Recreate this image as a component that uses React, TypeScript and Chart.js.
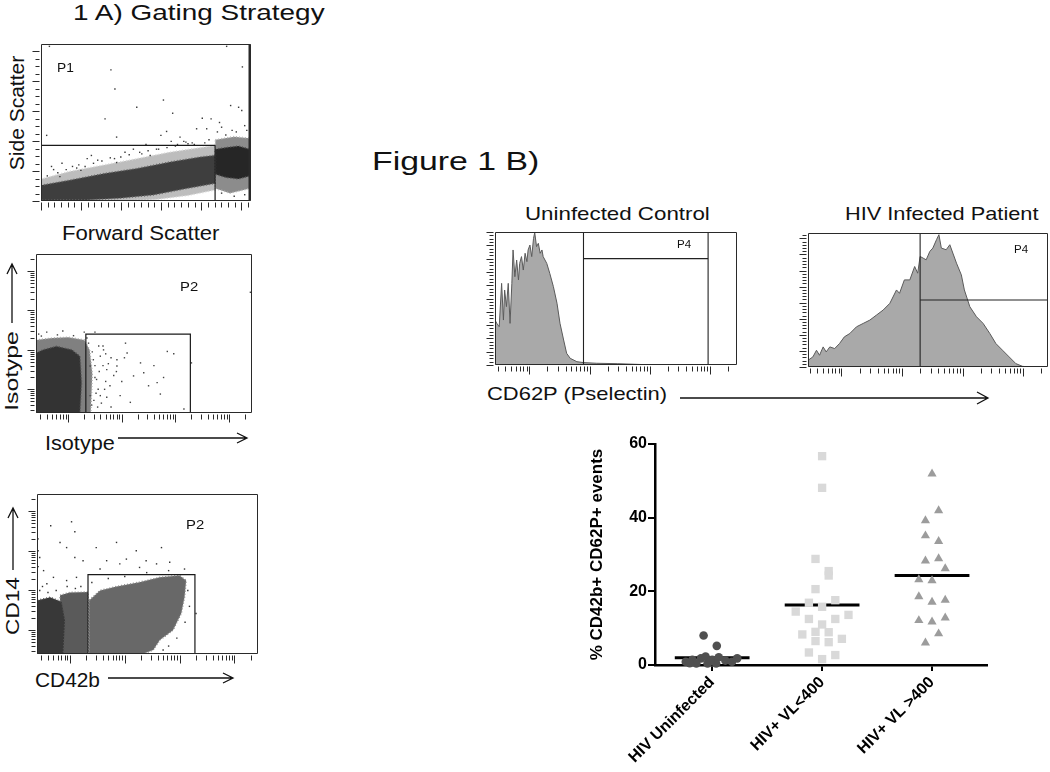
import React, { useEffect, useRef } from 'react';
import { Chart, registerables } from 'chart.js';

Chart.register(...registerables);
const FONT = '"Liberation Sans", Arial, Helvetica, sans-serif';
Chart.defaults.font.family = FONT;

type Pt = [number, number];

// ---------------- Figure 1B dot plot data ----------------
const categories = ['HIV Uninfected', 'HIV+ VL<400', 'HIV+ VL >400'];
const yTickValues = [0, 20, 40, 60];
const uninfectedValues = [8.0, 5.2, 0.9, 1.4, 1.8, 2.3, 1.4, 2.1, 1.2, 1.8, 0.9, 0.4, 0.4, 0.4, 0.5, 1.0];
const uninfectedJitter = [-1.3, 0.7, -4, -3, -1.7, -1, 0, 1, 2, 3.8, 3, -2.4, -0.7, 0.6, -3.4, -0.3];
const vlLowValues = [56.7, 48.1, 28.8, 25.5, 24.3, 20.6, 17.6, 16.9, 15.8, 14.5, 13.6, 12.5, 12.5, 11.0, 8.3, 9.0, 6.5, 8.9, 6.2, 7.1, 3.4, 2.7, 1.6];
const vlLowJitter = [0, 0, -1, 1, 1, -1, 2, -2, 0, -4, 4, -2, 2, 0, -3, -1, -1, 1, 1, 3, -2, 2, 0];
const vlHighValues = [51.9, 41.9, 39.2, 35.1, 33.6, 28.3, 28.9, 26.2, 23.2, 22.9, 18.6, 17.1, 17.6, 12.1, 11.7, 12.8, 8.5, 6.0];
const vlHighJitter = [0, 1, -1, -1, 1, -1, 1, 2, -2, 0, -2, 0, 2, -2, 0, 2, 1, -1];
const medians = [2.0, 16.3, 24.3];
const JITTER_STEP = 0.06;
const MEDIAN_HALF = 0.34;

// ---------------- Gating plot 1: FSC vs SSC (% of linear scale) ----------------
const fscSscHalo: Pt[] = [[0, 14], [14, 19], [30, 23], [46, 27], [61, 31], [76, 34], [82.9, 35.4], [82.9, 7], [70, 3.5], [55, 1], [40, 0], [0, 0]];
const fscSscCore: Pt[] = [[0, 10], [14, 13.3], [30, 17.5], [45.6, 20.7], [61.4, 24.9], [75.7, 28], [82.9, 29.1], [82.9, 11.2], [69.4, 8], [53.5, 3.8], [37.6, 1.7], [21.7, 0.6], [0, 0.5]];
const fscSscRightHalo: Pt[] = [[83, 39], [92, 41], [99.5, 40], [99.5, 8], [90, 5], [83, 8]];
const fscSscRightCore: Pt[] = [[83, 33], [88, 34], [94, 35], [99.5, 33], [99.5, 16], [94, 14], [88, 15], [83, 17]];
const fscSscDots: Pt[] = [[33.3, 83.5], [35.2, 71.3], [58.3, 64.3], [45.6, 59.7], [62.7, 55.9], [30.5, 52.3], [76.8, 52.7], [81, 52.3], [2.7, 41.8], [36, 40.7], [59.8, 44.3], [57.1, 41.8], [66.2, 40.7], [74.1, 46], [78.9, 46], [95.9, 85.4], [90.3, 60.8], [94.1, 59.7], [95.6, 57.6], [88.4, 98.5], [4, 98.5], [10, 24], [22, 27], [40, 31], [50, 36], [68, 38], [72, 37], [15, 22], [27, 26], [55, 33], [64, 35], [80, 39], [86, 47], [91, 45], [97, 48], [85, 50], [6, 20], [18, 23], [35, 27], [48, 30], [70, 36.5], [3, 16], [8, 18], [12, 20], [17, 21], [21, 22], [25, 24], [29, 25.5], [33, 27.5], [38, 28], [42, 29.5], [47, 31], [51, 32], [56, 33], [60, 34], [65, 36], [69, 37.5], [73, 36], [78, 37], [5, 22], [24, 29], [44, 33], [62, 38], [9, 15.5], [19, 19.5], [36, 24.5], [52, 29], [84, 44], [88, 42], [93, 44], [98, 45], [86, 5], [92, 3], [97, 4]];
const fscSscGate = [0, 82.9, 0, 35.4];

// ---------------- Gating plot 2: Isotype (log decades) ----------------
const isoHalo: Pt[] = [[1.4, 3.25], [1.7, 3.3], [2.0, 3.32], [2.3, 3.25], [2.4, 3.0], [2.45, 2.4], [2.42, 1.4], [1.4, 1.4]];
const isoCore: Pt[] = [[1.4, 1.4], [1.4, 2.92], [1.53, 3.0], [1.78, 3.09], [2.07, 3.0], [2.22, 2.84], [2.25, 2.17], [2.22, 1.4]];
const isoDots: Pt[] = [[3.07, 3.17], [3.85, 2.96], [3.97, 2.9], [3.1, 2.92], [2.6, 2.84], [3.6, 2.6], [3.41, 2.42], [3.78, 2.3], [2.72, 2.5], [2.47, 2.75], [2.91, 2.59], [3.22, 2.34], [3.66, 2.17], [4.16, 1.5], [3.16, 1.67], [2.78, 2.09], [2.53, 2.25], [2.41, 2.59], [2.66, 3.0], [2.38, 3.17], [2.91, 2.75], [3.35, 2.67], [3.5, 2.09], [2.97, 1.84], [2.6, 1.84], [2.41, 1.84], [3.72, 1.88], [5.4, 4.46], [4.3, 2.67], [2.45, 2.95], [2.5, 2.3], [2.56, 2.0], [2.65, 2.6], [2.7, 2.2], [2.44, 1.6], [2.55, 1.55], [2.8, 2.8], [2.35, 3.3], [1.5, 3.35], [1.8, 3.38], [2.1, 3.36], [2.85, 2.35], [2.62, 1.65], [2.3, 3.45], [2.65, 3.1], [2.7, 2.9], [2.75, 2.65], [2.68, 2.0], [2.72, 1.8], [2.8, 1.55], [2.9, 2.45], [3.0, 2.2], [3.05, 2.8], [2.5, 3.45], [1.6, 3.45], [1.9, 3.48], [1.45, 3.4], [2.5, 2.6], [2.52, 1.9], [2.58, 2.45], [2.48, 1.72], [2.57, 3.1]];
const isoGate = [2.33, 4.28, 1.4, 3.4];

// ---------------- Gating plot 3: CD42b vs CD14 (log decades) ----------------
const cd14Mid: Pt[] = [[1.82, 2.88], [2.0, 2.95], [2.33, 2.96], [2.33, 1.4], [1.82, 1.4]];
const cd14Left: Pt[] = [[1.4, 1.4], [1.4, 2.75], [1.64, 2.83], [1.85, 2.71], [1.91, 2.25], [1.88, 1.4]];
const cd14Gray: Pt[] = [[2.35, 1.4], [2.35, 2.75], [2.55, 3.0], [2.85, 3.1], [3.27, 3.21], [3.64, 3.33], [4.0, 3.38], [4.12, 3.25], [4.09, 2.83], [4.03, 2.42], [3.88, 2.0], [3.64, 1.75], [3.52, 1.5], [3.33, 1.4]];
const cd14Dots: Pt[] = [[1.65, 4.63], [2.03, 4.73], [2.09, 4.48], [1.82, 4.21], [1.94, 4.08], [2.48, 4.08], [2.85, 4.21], [3.21, 4.0], [3.67, 4.08], [1.45, 3.83], [1.52, 3.5], [1.7, 3.33], [2.24, 3.75], [2.67, 3.75], [3.03, 3.79], [3.39, 3.75], [3.58, 3.67], [3.82, 3.71], [4.09, 3.54], [4.3, 2.42], [1.91, 5.42], [2.09, 3.83], [2.55, 3.54], [2.91, 3.67], [3.27, 3.58], [1.94, 3.25], [2.12, 3.33], [1.58, 3.17], [2.2, 3.1], [2.4, 3.2], [2.7, 3.3], [3.0, 3.35], [3.4, 3.45], [3.8, 3.5], [4.15, 3.0], [4.18, 2.6], [4.1, 2.2], [3.95, 1.8], [3.8, 1.6], [3.7, 1.5], [1.45, 3.0], [1.5, 3.1], [1.6, 2.95], [1.75, 3.0], [1.95, 3.1], [2.1, 3.05], [1.42, 3.6], [1.42, 4.0], [1.42, 4.3]];
const cd14Gate = [2.33, 4.28, 1.4, 3.4];

// ---------------- Histograms (CD62P, log decades vs % of max count) ----------------
const uninfectedHistogram: Pt[] = [[1.43, 33.8], [1.46, 31.3], [1.5, 28.8], [1.54, 61.4], [1.57, 33.8], [1.59, 56.4], [1.62, 43.9], [1.65, 61.4], [1.68, 31.3], [1.71, 61.4], [1.73, 86.5], [1.76, 66.4], [1.79, 78.9], [1.82, 63.9], [1.84, 76.4], [1.87, 81.5], [1.9, 71.4], [1.93, 84], [1.96, 77.7], [1.98, 86.5], [2.01, 90.2], [2.04, 81.5], [2.07, 95.2], [2.09, 99.5], [2.12, 89], [2.15, 91.5], [2.18, 84], [2.21, 86.5], [2.23, 81.5], [2.29, 76.4], [2.34, 68.9], [2.4, 58.9], [2.46, 46.4], [2.51, 31.3], [2.57, 18.8], [2.62, 8.8], [2.68, 5], [2.79, 2.5], [2.9, 1.8], [3.12, 1.3], [3.46, 1], [3.9, 0.3], [4.2, 0]];
const infectedHistogram: Pt[] = [[1.45, 5], [1.53, 7.5], [1.59, 12.5], [1.64, 8.75], [1.7, 15], [1.75, 11.25], [1.81, 15], [1.89, 13.75], [1.97, 17.5], [2.05, 22.5], [2.14, 25], [2.25, 30], [2.36, 32.5], [2.47, 35], [2.58, 38.75], [2.69, 42.5], [2.8, 47.5], [2.91, 57.5], [2.96, 55], [3.04, 65], [3.13, 65], [3.21, 75], [3.26, 70], [3.3, 82.5], [3.35, 81.25], [3.4, 80], [3.46, 86.25], [3.51, 88.75], [3.57, 95], [3.61, 98.75], [3.65, 88.75], [3.73, 87.5], [3.79, 91.25], [3.84, 85], [3.9, 77.5], [3.98, 68.75], [4.03, 57.5], [4.12, 45], [4.23, 37.5], [4.34, 32.5], [4.45, 25], [4.55, 17.5], [4.66, 12.5], [4.77, 7.5], [4.88, 2.5], [4.99, 0.5], [5.1, 0]];
const uninfectedGate = [2.9, 4.97, 80];
const infectedGate = [3.3, 5.41, 50];

// ---------------- helpers ----------------
interface TickSpec { v: number; major: boolean }
function logTicks(min: number, max: number): TickSpec[] {
  const out: TickSpec[] = [];
  for (let d = Math.floor(min); d <= Math.ceil(max); d++) {
    for (let k = 1; k <= 9; k++) {
      const v = d + Math.log10(k);
      if (v >= min - 1e-9 && v <= max + 1e-9) out.push({ v, major: k === 1 });
    }
  }
  return out;
}
function linTicks(min: number, max: number, step: number, sub: number): TickSpec[] {
  const out: TickSpec[] = [];
  for (let i = 0; ; i++) {
    const v = min + (i * step) / sub;
    if (v > max + 1e-9) break;
    out.push({ v, major: i % sub === 0 });
  }
  return out;
}

function framePlugin(xt: TickSpec[], yt: TickSpec[], rightWidth = 1) {
  return {
    id: 'flowFrame',
    afterDraw(chart: any) {
      const { ctx, chartArea: a, scales } = chart;
      ctx.save();
      ctx.strokeStyle = '#2a2a2a';
      ctx.lineWidth = 1;
      const L = Math.round(a.left) + 0.5;
      const R = Math.round(a.right) - 0.5;
      const T = Math.round(a.top) + 0.5;
      const B = Math.round(a.bottom) - 0.5;
      ctx.beginPath();
      ctx.rect(L, T, R - L, B - T);
      for (const t of xt) {
        const x = Math.round(scales.x.getPixelForValue(t.v)) + 0.5;
        ctx.moveTo(x, B + 2);
        ctx.lineTo(x, B + 2 + (t.major ? 8 : 5));
      }
      for (const t of yt) {
        const y = Math.round(scales.y.getPixelForValue(t.v)) + 0.5;
        ctx.moveTo(L - 2, y);
        ctx.lineTo(L - 2 - (t.major ? 7 : 4), y);
      }
      ctx.stroke();
      if (rightWidth > 1) {
        ctx.lineWidth = rightWidth;
        ctx.beginPath();
        ctx.moveTo(R - rightWidth / 2 + 0.5, T);
        ctx.lineTo(R - rightWidth / 2 + 0.5, B);
        ctx.stroke();
      }
      ctx.restore();
    },
  };
}

const xy = (pts: Pt[]) => pts.map(([x, y]) => ({ x, y }));
const rect = (g: number[]): Pt[] => [[g[0], g[2]], [g[0], g[3]], [g[1], g[3]], [g[1], g[2]], [g[0], g[2]]];

function poly(pts: Pt[], color: string, order: number, edge?: string) {
  return { type: 'line', data: xy([...pts, pts[0]]), showLine: true, fill: 'shape', backgroundColor: color, borderColor: edge ?? color, borderWidth: edge ? 1.6 : 0.8, borderDash: edge ? [1, 2] : [], pointRadius: 0, tension: 0, order };
}
function dots(pts: Pt[], color: string, order: number, r = 1) {
  return { type: 'scatter', data: xy(pts), showLine: false, pointStyle: 'rect', pointRadius: r, backgroundColor: color, borderWidth: 0, order };
}
function path(pts: Pt[], color: string, order: number, w = 1.2) {
  return { type: 'line', data: xy(pts), showLine: true, fill: false, borderColor: color, borderWidth: w, pointRadius: 0, tension: 0, order };
}
function area(pts: Pt[], fillColor: string, lineColor: string, order: number) {
  return { type: 'line', data: xy(pts), showLine: true, fill: 'origin', backgroundColor: fillColor, borderColor: lineColor, borderWidth: 1, pointRadius: 0, tension: 0, order };
}

function flowConfig(o: { xr: number[]; yr: number[]; datasets: any[]; xt: TickSpec[]; yt: TickSpec[]; pad: any; rightWidth?: number }) {
  return {
    type: 'scatter',
    data: { datasets: o.datasets },
    options: {
      animation: false,
      responsive: false,
      events: [],
      layout: { padding: o.pad },
      plugins: { legend: { display: false }, tooltip: { enabled: false } },
      scales: {
        x: { type: 'linear', display: false, min: o.xr[0], max: o.xr[1] },
        y: { type: 'linear', display: false, min: o.yr[0], max: o.yr[1] },
      },
    },
    plugins: [framePlugin(o.xt, o.yt, o.rightWidth)],
  };
}

function ChartCanvas({ left, top, width, height, make }: { left: number; top: number; width: number; height: number; make: () => any }) {
  const ref = useRef<HTMLCanvasElement>(null);
  useEffect(() => {
    const chart = new Chart(ref.current as HTMLCanvasElement, make());
    return () => chart.destroy();
  }, []);
  return <canvas ref={ref} width={width} height={height} style={{ position: 'absolute', left, top, width, height }} />;
}

function Label({ t, x, y, size, stretch = 1, bold = false, rot = false }: { t: string; x: number; y: number; size: number; stretch?: number; bold?: boolean; rot?: boolean }) {
  const style: React.CSSProperties = { position: 'absolute', whiteSpace: 'nowrap', fontFamily: FONT, fontSize: size, lineHeight: 1, color: '#111', fontWeight: bold ? 700 : 400, left: x };
  if (rot) {
    style.top = y;
    style.transform = `translate(-50%, -50%) rotate(-90deg) scaleX(${stretch})`;
  } else {
    style.top = y - 0.13 * size;
    style.transform = `scaleX(${stretch})`;
    style.transformOrigin = 'left top';
  }
  return <div style={style}>{t}</div>;
}

const LOG = [1.4, 5.43];
const PAD = { left: 12, right: 4, top: 3, bottom: 12 };

function dotPlotConfig() {
  const groupPoints = (vals: number[], jit: number[], c: number) => vals.map((v, i) => ({ x: c + jit[i] * JITTER_STEP, y: v }));
  return {
    type: 'scatter',
    data: {
      datasets: [
        { label: categories[0], data: groupPoints(uninfectedValues, uninfectedJitter, 1), pointStyle: 'circle', pointRadius: 4.3, backgroundColor: '#505050', borderWidth: 0, clip: false },
        { label: categories[1], data: groupPoints(vlLowValues, vlLowJitter, 2), pointStyle: 'rect', pointRadius: 5.9, backgroundColor: '#d9d9d9', borderWidth: 0, clip: false },
        { label: categories[2], data: groupPoints(vlHighValues, vlHighJitter, 3), pointStyle: 'triangle', pointRadius: 5.3, backgroundColor: '#9c9c9c', borderWidth: 0, clip: false },
        ...medians.map((m, i) => ({
          type: 'line',
          label: 'median ' + categories[i],
          data: [{ x: i + 1 - MEDIAN_HALF, y: m }, { x: i + 1 + MEDIAN_HALF, y: m }],
          showLine: true,
          borderColor: '#000',
          borderWidth: 3,
          pointRadius: 0,
          clip: false,
        })),
      ],
    },
    options: {
      animation: false,
      responsive: false,
      events: [],
      layout: { padding: { top: 14, right: 13, left: 0, bottom: 0 } },
      plugins: { legend: { display: false }, tooltip: { enabled: false } },
      scales: {
        x: {
          type: 'linear',
          min: 0.48,
          max: 3.5,
          afterBuildTicks: (s: any) => { s.ticks = categories.map((_, i) => ({ value: i + 1 })); },
          afterFit: (s: any) => { s.height = 107; },
          ticks: { autoSkip: false, maxRotation: 45, minRotation: 45, color: '#000', font: { size: 16, weight: 'bold' }, padding: 2, callback: (v: any) => categories[Number(v) - 1] ?? '' },
          grid: { drawOnChartArea: false, drawTicks: true, tickLength: 6, color: '#000', lineWidth: 2 },
          border: { display: true, color: '#000', width: 2.5 },
        },
        y: {
          type: 'linear',
          min: 0,
          max: 60,
          afterBuildTicks: (s: any) => { s.ticks = yTickValues.map((v) => ({ value: v })); },
          afterFit: (s: any) => { s.width = 95; },
          ticks: { color: '#000', font: { size: 16, weight: 'bold' }, padding: 1 },
          grid: { drawOnChartArea: false, drawTicks: true, tickLength: 7, color: '#000', lineWidth: 2 },
          border: { display: true, color: '#000', width: 2.5 },
          title: { display: true, text: '% CD42b+ CD62P+ events', color: '#000', font: { size: 17, weight: 'bold' }, padding: { top: 27, bottom: 0 } },
        },
      },
    },
  };
}

export default function App() {
  return (
    <div style={{ position: 'absolute', left: 0, top: 0, width: 1050, height: 772, background: '#fff', overflow: 'hidden', fontFamily: FONT }}>
      {/* Gating plot 1 */}
      <ChartCanvas left={29} top={40} width={226} height={173} make={() => flowConfig({
        xr: [0, 100], yr: [0, 100], pad: PAD, rightWidth: 2.5,
        xt: linTicks(0, 100, 19.07, 6), yt: linTicks(0, 100, 19.07, 4),
        datasets: [
          path(rect(fscSscGate), '#1a1a1a', 0, 1.2),
          dots(fscSscDots, '#3a3a3a', 1),
          poly(fscSscCore, '#3e3e3e', 2, '#6a6a6a'),
          poly(fscSscRightCore, '#262626', 2, '#555'),
          poly(fscSscHalo, '#bdbdbd', 3, '#dadada'),
          poly(fscSscRightHalo, '#8c8c8c', 3, '#bbb'),
        ],
      })} />
      {/* Gating plot 2 */}
      <ChartCanvas left={24} top={250} width={232} height={175} make={() => flowConfig({
        xr: LOG, yr: LOG, pad: PAD,
        xt: logTicks(LOG[0], LOG[1]), yt: logTicks(LOG[0], LOG[1]),
        datasets: [
          path(rect(isoGate), '#1a1a1a', 0, 1.2),
          dots(isoDots, '#444', 1),
          poly(isoCore, '#333', 2, '#555'),
          poly(isoHalo, '#808080', 3, '#aaa'),
        ],
      })} />
      {/* Gating plot 3 */}
      <ChartCanvas left={25} top={490} width={237} height={176} make={() => flowConfig({
        xr: LOG, yr: LOG, pad: PAD,
        xt: logTicks(LOG[0], LOG[1]), yt: logTicks(LOG[0], LOG[1]),
        datasets: [
          path(rect(cd14Gate), '#1a1a1a', 0, 1.2),
          dots(cd14Dots, '#333', 1),
          poly(cd14Left, '#383838', 2, '#555'),
          poly(cd14Gray, '#686868', 2, '#8a8a8a'),
          poly(cd14Mid, '#5a5a5a', 3, '#888'),
        ],
      })} />
      {/* Histogram: uninfected */}
      <ChartCanvas left={483} top={229} width={258} height={148} make={() => flowConfig({
        xr: [1.43, 5.45], yr: [0, 100], pad: PAD,
        xt: logTicks(1.43, 5.45), yt: linTicks(0, 100, 10, 4),
        datasets: [
          path([[uninfectedGate[0], 0], [uninfectedGate[0], 100]], '#222', 0, 1.1),
          path([[uninfectedGate[1], 0], [uninfectedGate[1], 100]], '#222', 0, 1.1),
          path([[uninfectedGate[0], uninfectedGate[2]], [uninfectedGate[1], uninfectedGate[2]]], '#222', 0, 1.1),
          area(uninfectedHistogram, '#a9a9a9', '#5a5a5a', 1),
        ],
      })} />
      {/* Histogram: HIV infected */}
      <ChartCanvas left={796} top={230} width={254} height={149} make={() => flowConfig({
        xr: [1.45, 5.41], yr: [0, 100], pad: { left: 12, right: 2, top: 3, bottom: 12 },
        xt: logTicks(1.45, 5.41), yt: linTicks(0, 100, 12, 5),
        datasets: [
          path([[infectedGate[0], 0], [infectedGate[0], 100]], '#222', 0, 1.1),
          path([[infectedGate[0], infectedGate[2]], [infectedGate[1], infectedGate[2]]], '#222', 0, 1.1),
          area(infectedHistogram, '#a9a9a9', '#5a5a5a', 1),
        ],
      })} />
      {/* Dot plot */}
      <ChartCanvas left={560} top={430} width={440} height={342} make={dotPlotConfig} />

      {/* Text */}
      <Label t="1 A) Gating Strategy" x={73} y={5} size={22} stretch={1.27} />
      <Label t="Side Scatter" x={16} y={113} size={21} rot />
      <Label t="P1" x={57} y={64} size={12.5} stretch={1.1} />
      <Label t="Forward Scatter" x={62} y={226} size={20.5} stretch={1.08} />
      <Label t="Isotype" x={11} y={371} size={19} stretch={1.3} rot />
      <Label t="P2" x={180} y={282} size={13.5} stretch={1.1} />
      <Label t="Isotype" x={45} y={437} size={19.5} stretch={1.11} />
      <Label t="CD14" x={12} y={606} size={19} stretch={1.19} rot />
      <Label t="P2" x={186} y={520} size={13.5} stretch={1.1} />
      <Label t="CD42b" x={35} y={674} size={19.5} stretch={1.07} />
      <Label t="Figure 1 B)" x={372} y={151} size={26} stretch={1.3} />
      <Label t="Uninfected Control" x={525} y={207} size={18.6} stretch={1.2} />
      <Label t="HIV Infected Patient" x={845} y={207} size={18.6} stretch={1.17} />
      <Label t="P4" x={677} y={240} size={10.5} stretch={1.1} />
      <Label t="P4" x={1014} y={245} size={10.5} stretch={1.1} />
      <Label t="CD62P (Pselectin)" x={487} y={387} size={18.6} stretch={1.18} />

      {/* Arrows */}
      <svg width={1050} height={772} style={{ position: 'absolute', left: 0, top: 0, pointerEvents: 'none' }}>
        <g stroke="#111" strokeWidth={1.3} fill="none">
          <path d="M12 323 L12 264 M7 274 L12 264 L17 274" />
          <path d="M118 438 L247 438 M237 433 L247 438 L237 443" />
          <path d="M13 570 L13 508 M8 518 L13 508 L18 518" />
          <path d="M108 678 L233 678 M223 673 L233 678 L223 683" />
          <path d="M680 398 L988 398 M977 392 L988 398 L977 404" />
        </g>
      </svg>
    </div>
  );
}
